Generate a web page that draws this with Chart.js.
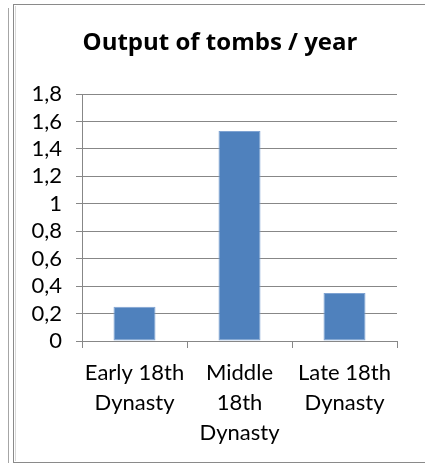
<!DOCTYPE html>
<html>
<head>
<meta charset="utf-8">
<title>Output of tombs / year</title>
<script src="https://cdn.jsdelivr.net/npm/chart.js@4/dist/chart.umd.min.js"></script>
<style>
  html, body { margin: 0; padding: 0; background: #fff; }
  #wrap { width: 425px; height: 464px; position: relative; }
</style>
</head>
<body>
<div id="wrap"><canvas id="tombChart" width="425" height="464"></canvas></div>
<script>
// periods and average output of tombs per year
const periods = [
    ['Early 18th', 'Dynasty'],
    ['Middle', '18th', 'Dynasty'],
    ['Late 18th', 'Dynasty']
];
const tombsPerYear = [0.25, 1.53, 0.35];
const yTickLabels = ['0', '0,2', '0,4', '0,6', '0,8', '1', '1,2', '1,4', '1,6', '1,8'];

const FONT = 'Lato, Calibri, "Open Sans", sans-serif';
const TITLE_FONT = '"Open Sans", Calibri, sans-serif';
const GRID = '#878787';

// white page plus the framed border round the chart
const framePlugin = {
    id: 'frame',
    beforeDraw(chart) {
        const c = chart.ctx;
        c.save();
        c.fillStyle = '#fff';
        c.fillRect(0, 0, chart.width, chart.height);
        c.lineWidth = 1;
        c.strokeStyle = '#a6a6a6';
        c.beginPath();
        c.moveTo(8.5, 8);
        c.lineTo(8.5, 463);
        c.stroke();
        c.strokeStyle = '#8a8a8a';
        c.strokeRect(13.5, 4.5, 420, 458);
        c.strokeStyle = '#d9d9d9';
        c.beginPath();
        c.moveTo(15.5, 6);
        c.lineTo(15.5, 461);
        c.stroke();
        c.restore();
    }
};

document.addEventListener('DOMContentLoaded', function () {
    const ctx = document.getElementById('tombChart').getContext('2d');
    new Chart(ctx, {
        type: 'bar',
        data: {
            labels: periods,
            datasets: [{
                label: 'Output of tombs / year',
                data: tombsPerYear,
                backgroundColor: '#4F81BD',
                borderColor: '#7FA3D2',
                borderWidth: 1,
                borderSkipped: false,
                barPercentage: 0.4,
                categoryPercentage: 1
            }]
        },
        options: {
            responsive: false,
            animation: false,
            layout: { padding: { left: 15, right: 0, top: 0, bottom: 0 } },
            plugins: {
                legend: { display: false },
                tooltip: { enabled: false },
                title: {
                    display: true,
                    text: 'Output of tombs / year',
                    color: '#000',
                    font: { family: TITLE_FONT, size: 24, weight: 'bold', lineHeight: 1.2 },
                    padding: { top: 29, bottom: 36.2 }
                }
            },
            scales: {
                x: {
                    grid: {
                        offset: true,
                        drawOnChartArea: false,
                        drawTicks: true,
                        tickLength: 7,
                        color: GRID
                    },
                    border: { color: GRID },
                    ticks: {
                        color: '#000',
                        maxRotation: 0,
                        autoSkip: false,
                        padding: 10,
                        font: { family: FONT, size: 22, lineHeight: 30 / 22 }
                    },
                    afterFit(scale) { scale.height = 123; }
                },
                y: {
                    min: 0,
                    max: 1.8,
                    grid: { color: GRID, tickLength: 6 },
                    border: { color: GRID },
                    ticks: {
                        stepSize: 0.2,
                        autoSkip: false,
                        color: '#000',
                        padding: 14,
                        font: { family: FONT, size: 22 },
                        callback: function (value, index) { return yTickLabels[index]; }
                    },
                    afterFit(scale) { scale.width = 67; }
                },
                // empty axis on the right to hold the gap after the plot
                y2: {
                    position: 'right',
                    grid: { display: false },
                    border: { display: false },
                    ticks: { display: false },
                    afterFit(scale) { scale.width = 28; }
                }
            }
        },
        plugins: [framePlugin]
    });
});
</script>
</body>
</html>
